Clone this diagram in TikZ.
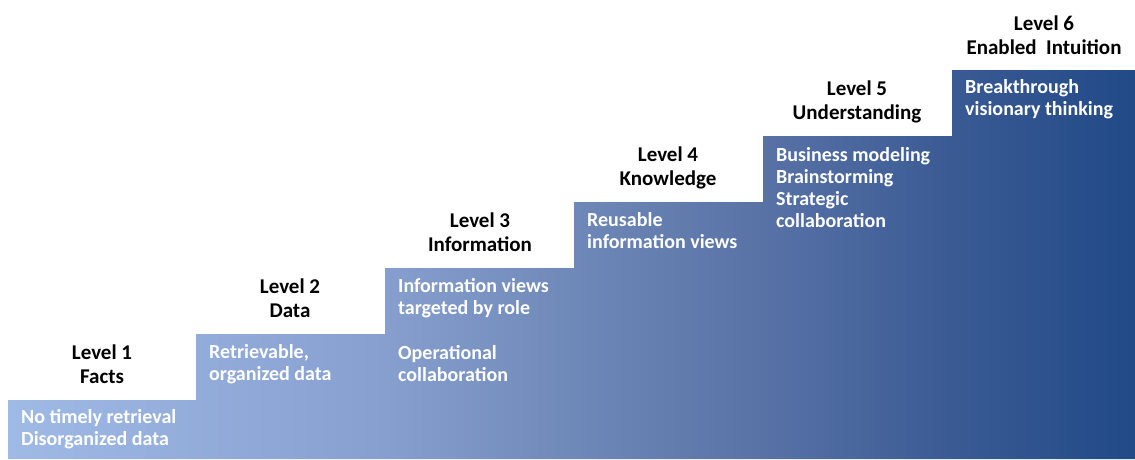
\documentclass[tikz,border=0pt]{standalone}
\usepackage{fontspec}
\setmainfont{Carlito}
\definecolor{stA}{RGB}{160,186,230}
\definecolor{stB}{RGB}{134,159,207}
\definecolor{stC}{RGB}{110,136,184}
\definecolor{stD}{RGB}{88,114,166}
\definecolor{stE}{RGB}{58,90,148}
\definecolor{stF}{RGB}{33,74,135}
\pgfdeclarehorizontalshading{stairshade}{100bp}{%
  color(0bp)=(stA); color(25bp)=(stA); color(41.7bp)=(stB); color(50.15bp)=(stC);
  color(58.5bp)=(stD); color(66.9bp)=(stE); color(75bp)=(stF); color(100bp)=(stF)}
\tikzset{
  lvl/.style={anchor=base, align=center, inner sep=0pt, text=black,
    font=\fontsize{21}{24}\selectfont\bfseries},
  desc/.style={anchor=base west, align=left, inner sep=0pt, text=white,
    font=\fontsize{20}{22}\selectfont\bfseries},
}
\begin{document}
\begin{tikzpicture}[x=1pt,y=-1pt]
\useasboundingbox (0,0) rectangle (1135,459);
\path[shading=stairshade] (8,459) -- (8,400) -- (196,400) -- (196,334) -- (385,334) -- (385,268)
  -- (574,268) -- (574,202) -- (763,202) -- (763,136) -- (952,136) -- (952,70)
  -- (1135,70) -- (1135,459) -- cycle;
% level titles (anchor = baseline of last line)
\node[lvl] (l1) at (102,383) {Level 1\\Facts};
\node[lvl] (l2) at (290,317) {Level 2\\Data};
\node[lvl] (l3) at (480,251) {Level 3\\Information};
\node[lvl] (l4) at (668,185) {Level 4\\Knowledge};
\node[lvl] (l5) at (857,119) {Level 5\\Understanding};
\node[lvl] (l6) at (1044,54) {Level 6\\Enabled\ \ Intuition};
% descriptions (anchor = baseline of last line)
\node[desc] (d1) at (21,445) {No timely retrieval\\Disorganized data};
\node[desc] (d2) at (209,380) {Retrievable,\\organized data};
\node[desc] (d3a) at (398,314) {Information views\\targeted by role};
\node[desc] (d3b) at (398,381) {Operational\\collaboration};
\node[desc] (d4) at (587,248) {Reusable\\information views};
\node[desc] (d5) at (776,227) {Business modeling\\Brainstorming\\Strategic\\collaboration};
\node[desc] (d6) at (965,115) {Breakthrough\\visionary thinking};
\end{tikzpicture}
\end{document}
